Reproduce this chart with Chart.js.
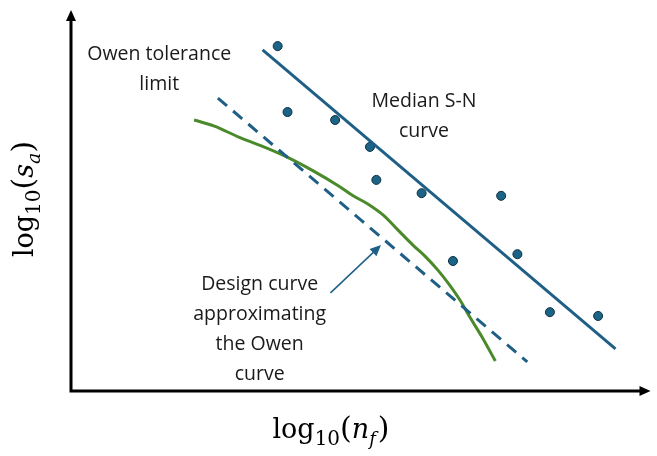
<!DOCTYPE html>
<html>
<head>
<meta charset="utf-8">
<script src="https://cdn.jsdelivr.net/npm/chart.js@4.4.1/dist/chart.umd.min.js"></script>
<style>
  html, body { margin: 0; padding: 0; background: #ffffff; }
  #wrap { width: 657px; height: 456px; }
</style>
</head>
<body>
<div id="wrap"><canvas id="chart" width="657" height="456"></canvas></div>
<script>
// schematic units, both axes run 0..100 (no ticks shown)
const sampleX = [35.6, 37.3, 45.5, 51.5, 52.6, 60.4, 65.8, 74.1, 76.9, 82.5, 90.8];
const sampleY = [91.0, 73.6, 71.5, 64.4, 55.7, 52.2, 34.3, 51.5, 36.1, 20.8, 19.8];

const medianX = [33.0, 93.8];
const medianY = [90.0, 11.1];

const designX = [25.3, 78.6];
const designY = [77.3, 7.7];

const owenX = [21.2, 24.7, 28.9, 33.2, 37.5, 41.8, 46.1, 48.6, 51.2, 53.8, 56.3, 58.9, 61.1, 63.2, 65.2, 67.0, 68.7, 70.9, 73.1];
const owenY = [71.5, 69.9, 67.0, 64.4, 61.5, 58.0, 54.1, 51.5, 49.3, 46.4, 42.5, 38.5, 35.4, 31.9, 28.0, 24.0, 19.5, 14.0, 7.9];

const colors = {
    blue: '#1f5f86',
    dot: '#1b6485',
    dotEdge: '#0c2f42',
    green: '#4a8a2a',
    axis: '#000000',
    text: '#1a1a1a'
};

const toPoints = (xs, ys) => xs.map((x, i) => ({ x, y: ys[i] }));

// annotation text, placed in data units
const notes = [
    { lines: ['Owen tolerance', 'limit'], x: 15.2, y: 88.7 },
    { lines: ['Median S-N', 'curve'], x: 60.8, y: 76.3 },
    { lines: ['Design curve', 'approximating', 'the Owen', 'curve'], x: 32.5, y: 28.0 }
];
const pointer = { from: { x: 44.7, y: 25.9 }, to: { x: 53.4, y: 38.5 } };

function drawMath(ctx, parts) {
    let total = 0;
    parts.forEach(p => {
        ctx.font = p.font;
        p.w = ctx.measureText(p.t).width + (p.gap || 0);
        total += p.w;
    });
    let x = -total / 2;
    parts.forEach(p => {
        ctx.font = p.font;
        ctx.fillText(p.t, x, p.dy || 0);
        x += p.w;
    });
}

const serif = "'DejaVu Serif', serif";
const xTitle = [
    { t: 'log', font: `27px ${serif}` },
    { t: '10', font: `20px ${serif}`, dy: 7 },
    { t: '(', font: `30px ${serif}` },
    { t: 'n', font: `italic 27px ${serif}` },
    { t: 'f', font: `italic 18px ${serif}`, dy: 7, gap: 2 },
    { t: ')', font: `30px ${serif}` }
];
const yTitle = [
    { t: 'log', font: `27px ${serif}` },
    { t: '10', font: `20px ${serif}`, dy: 7 },
    { t: '(', font: `30px ${serif}` },
    { t: 's', font: `italic 27px ${serif}` },
    { t: 'a', font: `italic 19px ${serif}`, dy: 7 },
    { t: ')', font: `30px ${serif}` }
];

const sketchPlugin = {
    id: 'sketch',
    beforeDatasetsDraw(chart) {
        const { ctx, chartArea: a } = chart;
        const tipTop = a.top - 2, tipRight = a.right - 1;
        ctx.save();
        ctx.strokeStyle = colors.axis;
        ctx.fillStyle = colors.axis;
        ctx.lineWidth = 3;
        ctx.beginPath();
        ctx.moveTo(a.left, tipTop + 8);
        ctx.lineTo(a.left, a.bottom);
        ctx.lineTo(tipRight - 8, a.bottom);
        ctx.stroke();
        // arrow heads
        ctx.beginPath();
        ctx.moveTo(a.left, tipTop);
        ctx.lineTo(a.left - 5, tipTop + 11);
        ctx.lineTo(a.left + 5, tipTop + 11);
        ctx.closePath();
        ctx.fill();
        ctx.beginPath();
        ctx.moveTo(tipRight, a.bottom);
        ctx.lineTo(tipRight - 11, a.bottom - 5);
        ctx.lineTo(tipRight - 11, a.bottom + 5);
        ctx.closePath();
        ctx.fill();

        // axis titles
        ctx.fillStyle = '#000';
        ctx.textBaseline = 'alphabetic';
        ctx.textAlign = 'left';
        ctx.save();
        ctx.translate(331, 438);
        drawMath(ctx, xTitle);
        ctx.restore();
        ctx.save();
        ctx.translate(33, 199);
        ctx.rotate(-Math.PI / 2);
        drawMath(ctx, yTitle);
        ctx.restore();
        ctx.restore();
    },
    afterDatasetsDraw(chart) {
        const { ctx, scales: { x, y } } = chart;
        ctx.save();
        ctx.fillStyle = colors.text;
        ctx.font = "19.5px 'Open Sans', sans-serif";
        ctx.textAlign = 'center';
        ctx.textBaseline = 'middle';
        notes.forEach(n => {
            const cx = x.getPixelForValue(n.x);
            const cy = y.getPixelForValue(n.y);
            n.lines.forEach((line, i) => ctx.fillText(line, cx, cy + i * 30));
        });

        // pointer arrow
        const x0 = x.getPixelForValue(pointer.from.x), y0 = y.getPixelForValue(pointer.from.y);
        const x1 = x.getPixelForValue(pointer.to.x), y1 = y.getPixelForValue(pointer.to.y);
        const ang = Math.atan2(y1 - y0, x1 - x0);
        ctx.strokeStyle = colors.blue;
        ctx.fillStyle = colors.blue;
        ctx.lineWidth = 1.5;
        ctx.beginPath();
        ctx.moveTo(x0, y0);
        ctx.lineTo(x1 - 8 * Math.cos(ang), y1 - 8 * Math.sin(ang));
        ctx.stroke();
        ctx.beginPath();
        ctx.moveTo(x1, y1);
        ctx.lineTo(x1 - 11 * Math.cos(ang) + 5 * Math.sin(ang), y1 - 11 * Math.sin(ang) - 5 * Math.cos(ang));
        ctx.lineTo(x1 - 11 * Math.cos(ang) - 5 * Math.sin(ang), y1 - 11 * Math.sin(ang) + 5 * Math.cos(ang));
        ctx.closePath();
        ctx.fill();
        ctx.restore();
    }
};

new Chart(document.getElementById('chart').getContext('2d'), {
    type: 'scatter',
    data: {
        datasets: [
            {
                label: 'Median S-N curve',
                data: toPoints(medianX, medianY),
                showLine: true,
                borderColor: colors.blue,
                borderWidth: 3,
                pointRadius: 0
            },
            {
                label: 'Design curve',
                data: toPoints(designX, designY),
                showLine: true,
                borderColor: colors.blue,
                borderWidth: 3,
                borderDash: [12, 8],
                pointRadius: 0
            },
            {
                label: 'Owen tolerance limit',
                data: toPoints(owenX, owenY),
                showLine: true,
                borderColor: colors.green,
                borderWidth: 3,
                tension: 0.35,
                pointRadius: 0
            },
            {
                label: 'Test data',
                data: toPoints(sampleX, sampleY),
                backgroundColor: colors.dot,
                borderColor: colors.dotEdge,
                borderWidth: 1,
                pointRadius: 4.5
            }
        ]
    },
    options: {
        responsive: false,
        animation: false,
        devicePixelRatio: 1,
        clip: false,
        layout: { padding: { left: 71, right: 0, top: 12, bottom: 65 } },
        scales: {
            x: { type: 'linear', min: 0, max: 100, display: false },
            y: { type: 'linear', min: 0, max: 100, display: false }
        },
        plugins: {
            legend: { display: false },
            tooltip: { enabled: false }
        }
    },
    plugins: [sketchPlugin]
});
</script>
</body>
</html>
